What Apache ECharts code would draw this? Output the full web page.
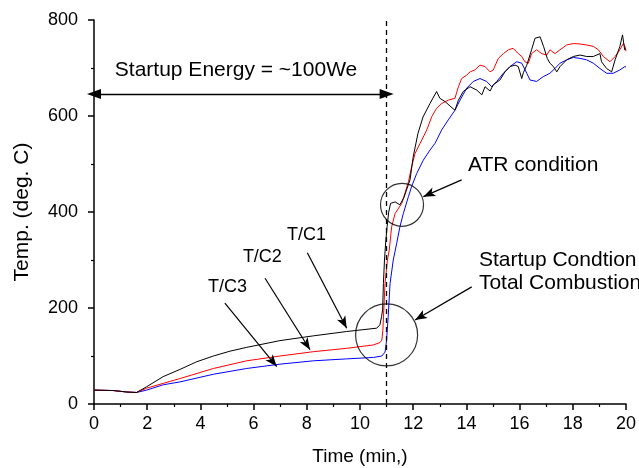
<!DOCTYPE html>
<html>
<head>
<meta charset="utf-8">
<script src="https://cdn.jsdelivr.net/npm/echarts@6/dist/echarts.min.js"></script>
<style>
  html, body { margin: 0; padding: 0; background: #fff; }
  #chart { width: 639px; height: 468px; }
</style>
</head>
<body>
<div id="chart"></div>
<script>
// Thermocouple readings during reformer startup (time in min, temperature in deg. C)
const tc1Time = [0, 0.73, 1.23, 1.6, 1.98, 2.6, 3.23, 3.86, 4.49, 5.11, 5.74, 6.99, 8.25, 9.5, 10.63, 10.75, 10.81, 10.85, 10.88, 10.92, 10.97, 11.02, 11.08, 11.15, 11.32, 11.5, 11.65, 11.88, 12.0, 12.18, 12.37, 12.63, 12.88, 13.0, 13.2, 13.38, 13.57, 13.7, 13.88, 14.14, 14.39, 14.58, 14.7, 14.89, 15.01, 15.26, 15.45, 15.64, 15.83, 15.95, 16.08, 16.14, 16.27, 16.45, 16.58, 16.77, 16.9, 17.04, 17.14, 17.27, 17.4, 17.52, 17.77, 18.02, 18.27, 18.52, 18.77, 19.02, 19.08, 19.27, 19.46, 19.59, 19.77, 19.87, 19.95, 20.0];
const tc1Temp = [29, 28, 25, 24, 36, 57, 72, 88, 100, 110, 118, 132, 142, 151, 158, 165, 182, 196, 251, 300, 340, 370, 400, 418, 421, 415, 430, 467, 515, 564, 598, 626, 651, 637, 630, 621, 612, 633, 651, 661, 654, 644, 661, 652, 665, 675, 692, 703, 706, 703, 678, 690, 706, 738, 762, 765, 745, 720, 710, 703, 692, 703, 717, 724, 727, 724, 724, 730, 713, 699, 692, 717, 745, 769, 738, 740];

const tc2Time = [0, 0.73, 1.23, 1.6, 1.98, 2.6, 3.23, 4.49, 5.74, 6.99, 8.25, 9.5, 10.5, 10.75, 10.82, 10.86, 10.94, 11.03, 11.1, 11.19, 11.32, 11.57, 11.69, 11.82, 11.94, 12.07, 12.26, 12.51, 12.7, 12.88, 13.07, 13.32, 13.57, 13.7, 13.82, 14.01, 14.14, 14.32, 14.51, 14.7, 14.89, 15.01, 15.2, 15.39, 15.58, 15.76, 15.95, 16.08, 16.2, 16.33, 16.45, 16.64, 16.83, 17.02, 17.14, 17.33, 17.52, 17.77, 18.02, 18.27, 18.52, 18.77, 18.96, 19.15, 19.4, 19.59, 19.77, 19.9, 19.96, 20.0];
const tc2Temp = [29, 28, 25, 24, 33, 43, 53, 74, 90, 100, 109, 116, 123, 128, 133, 154, 251, 300, 321, 369, 397, 418, 439, 463, 494, 522, 543, 571, 599, 616, 626, 633, 637, 661, 678, 685, 692, 696, 706, 703, 692, 696, 720, 730, 738, 741, 730, 724, 713, 710, 730, 738, 730, 727, 738, 730, 738, 748, 751, 750, 748, 745, 738, 724, 713, 724, 738, 751, 745, 735];

const tc3Time = [0, 0.73, 1.23, 1.6, 1.98, 2.6, 3.23, 4.49, 5.74, 6.99, 8.25, 9.5, 10.5, 10.82, 10.94, 11.0, 11.06, 11.13, 11.25, 11.38, 11.5, 11.63, 11.82, 11.94, 12.13, 12.38, 12.63, 12.82, 13.07, 13.32, 13.57, 13.76, 14.01, 14.26, 14.51, 14.76, 14.95, 15.14, 15.39, 15.64, 15.89, 16.08, 16.27, 16.39, 16.64, 16.89, 17.14, 17.33, 17.52, 17.77, 18.02, 18.27, 18.52, 18.77, 19.02, 19.27, 19.52, 19.77, 19.96, 20.0];
const tc3Temp = [29, 28, 25, 24, 29, 40, 46, 62, 74, 83, 90, 94, 97, 100, 108, 133, 182, 251, 300, 335, 369, 397, 432, 453, 480, 508, 529, 543, 571, 592, 612, 633, 658, 672, 678, 672, 661, 672, 689, 703, 713, 710, 689, 675, 672, 682, 689, 699, 710, 717, 722, 720, 717, 710, 699, 689, 689, 696, 703, 702];

const xTicks = { min: 0, max: 20, interval: 2 };
const yTicks = { min: 0, max: 800, interval: 200 };

// Startup switch-over time and the startup-energy span
const switchTime = 11;
const energySpan = [[0, 646], [11, 646]];

// Highlighted regions: [time, temp]
const startupCircle = [11.0, 144];
const atrCircle = [11.58, 415];

// Label arrows: from label to curve
const arrows = [
  [[8.02, 315], [9.5, 158]],
  [[6.43, 262], [8.12, 113]],
  [[4.92, 210], [6.87, 78]],
  [[13.82, 467], [12.38, 432]],
  [[14.2, 244], [12.07, 175]]
];

const FONT = 'Liberation Sans, Arial, sans-serif';

const pairs = (ts, vs) => ts.map((t, i) => [t, vs[i]]);

const chart = echarts.init(document.getElementById('chart'), null, { renderer: 'canvas' });

const lineSeries = (name, color, ts, vs) => ({
  name, type: 'line', data: pairs(ts, vs), showSymbol: false, symbol: 'none',
  lineStyle: { color, width: 1 }, itemStyle: { color }, silent: true, animation: false, z: 3
});

const solid = (w) => ({ color: '#000', width: w, type: 'solid' });

chart.setOption({
  animation: false,
  grid: { left: 94, right: 13, top: 20, bottom: 64, containLabel: false, outerBoundsMode: 'none' },
  xAxis: {
    type: 'value', min: xTicks.min, max: xTicks.max, interval: xTicks.interval,
    name: 'Time (min,)', nameLocation: 'middle', nameGap: 43,
    nameTextStyle: { fontFamily: FONT, fontSize: 19, color: '#000' },
    axisLine: { lineStyle: { color: '#000', width: 1.5 } },
    axisTick: { inside: false, length: 6, lineStyle: { color: '#000', width: 1.5 } },
    minorTick: { show: true, splitNumber: 2, length: 3, lineStyle: { color: '#000', width: 1.2 } },
    axisLabel: { fontFamily: FONT, fontSize: 18, color: '#000', margin: 11 },
    splitLine: { show: false }
  },
  yAxis: {
    type: 'value', min: yTicks.min, max: yTicks.max, interval: yTicks.interval,
    name: 'Temp. (deg. C)', nameLocation: 'middle', nameGap: 61, nameRotate: 90,
    nameTextStyle: { fontFamily: FONT, fontSize: 21, color: '#000' },
    axisLine: { show: true, lineStyle: { color: '#000', width: 1.5 } },
    axisTick: { show: true, inside: false, length: 6, lineStyle: { color: '#000', width: 1.5 } },
    minorTick: { show: true, splitNumber: 2, length: 3, lineStyle: { color: '#000', width: 1.2 } },
    axisLabel: { fontFamily: FONT, fontSize: 18, color: '#000', margin: 16 },
    splitLine: { show: false }
  },
  series: [
    lineSeries('T/C3', '#0000ff', tc3Time, tc3Temp),
    lineSeries('T/C2', '#ff0000', tc2Time, tc2Temp),
    lineSeries('T/C1', '#000000', tc1Time, tc1Temp),
    {
      // circled regions and annotation lines
      type: 'scatter', silent: true, z: 4,
      data: [
        { value: startupCircle, symbolSize: 62 },
        { value: atrCircle, symbolSize: 43 }
      ],
      symbol: 'circle',
      itemStyle: { color: 'rgba(0,0,0,0)', borderColor: '#000', borderWidth: 1.2 },
      markLine: {
        silent: true, animation: false,
        symbol: ['none', 'none'],
        label: { show: false },
        data: [
          {
            xAxis: switchTime, symbol: 'none',
            lineStyle: { color: '#000', width: 1.3, type: [5, 4] }
          },
          [
            { coord: energySpan[0], symbol: 'triangle', symbolSize: [10, 14], symbolRotate: 90, lineStyle: solid(1.3) },
            { coord: energySpan[1], symbol: 'triangle', symbolSize: [10, 14], symbolRotate: -90 }
          ],
          ...arrows.map(([a, b]) => [
            { coord: a, symbol: 'none', lineStyle: solid(1.2) },
            { coord: b, symbol: 'arrow', symbolSize: [7, 12] }
          ])
        ]
      }
    }
  ]
});

// annotation text placed at data coordinates
const notes = [
  { at: [5.34, 696], text: 'Startup Energy = ~100We', size: 21 },
  { at: [7.99, 352], text: 'T/C1', size: 18 },
  { at: [6.33, 306], text: 'T/C2', size: 18 },
  { at: [5.02, 244], text: 'T/C3', size: 18 },
  { at: [14.06, 498], text: 'ATR condition', size: 21, align: 'left' },
  { at: [14.47, 300], text: 'Startup Condtion', size: 21, align: 'left' },
  { at: [14.47, 252], text: 'Total Combustion', size: 21, align: 'left' }
];
chart.setOption({
  graphic: notes.map((n) => {
    const p = chart.convertToPixel({ gridIndex: 0 }, n.at);
    return {
      type: 'text', x: p[0], y: p[1], silent: true, z: 10,
      style: {
        text: n.text, fill: '#000', font: n.size + 'px ' + FONT,
        textAlign: n.align || 'center', textVerticalAlign: 'middle'
      }
    };
  })
});
</script>
</body>
</html>
